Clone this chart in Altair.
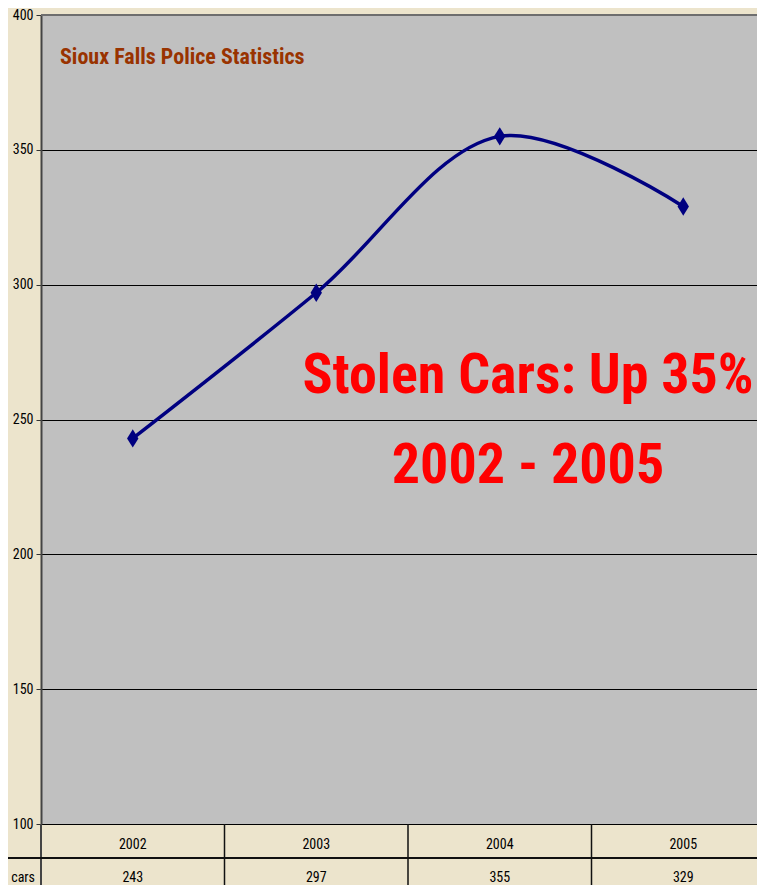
import altair as alt
import pandas as pd

# ---- data ----
years = ["2002", "2003", "2004", "2005"]
stolen_cars = [243, 297, 355, 329]
y_ticks = [100, 150, 200, 250, 300, 350, 400]
chart_title = ["Sioux Falls Police Statistics"]
headline_lines = ["Stolen Cars: Up 35%", "2002 - 2005"]
row_label = ["Stolen cars"]

df = pd.DataFrame({"year": years, "cars": stolen_cars})

FONT = "Roboto Condensed, Liberation Sans, Arial"
BG = "#ECE4CC"
NAVY = "#000080"

W, H = 716, 809

x_scale = alt.Scale(type="band", range=[0, 734], paddingInner=0, paddingOuter=0)
x_enc = alt.X("year:N", scale=x_scale, axis=None, sort=years)
y_enc = alt.Y(
    "cars:Q",
    scale=alt.Scale(domain=[100, 400], zero=False, nice=False),
    axis=alt.Axis(
        values=y_ticks, title=None, grid=True, gridColor="#000000", gridWidth=1,
        labelFont=FONT, labelFontSize=14, labelColor="#000000", labelPadding=3,
        tickColor="#333333", tickSize=5, tickWidth=1,
        domainColor="#444444", domainWidth=2,
    ),
)

base = alt.Chart(df)

top_line = base.mark_rule(color="#6E6E6E", strokeWidth=2).encode(
    x=alt.value(0), x2=alt.value(W + 20), y=alt.value(0)
)

line = base.mark_line(interpolate="catmull-rom", color=NAVY, strokeWidth=3.5).encode(x=x_enc, y=y_enc)

DIAMOND = "M0,-1L0.62,0L0,1L-0.62,0Z"
points = base.mark_point(shape=DIAMOND, filled=True, size=340, color=NAVY, opacity=1).encode(
    x=x_enc, y="cars:Q"
)

vlines = base.mark_rule(color="#111111", strokeWidth=1.5).encode(
    x=alt.X("year:N", scale=x_scale, axis=None, sort=years, bandPosition=0),
    y=alt.value(H), y2=alt.value(H + 80),
)
left_line = base.mark_rule(color="#444444", strokeWidth=2).encode(
    x=alt.value(0), y=alt.value(H), y2=alt.value(H + 80)
)
hline = base.mark_rule(color="#111111", strokeWidth=1.5).encode(
    x=alt.value(-40), x2=alt.value(W + 20), y=alt.value(H + 34)
)
year_text = base.mark_text(font=FONT, fontSize=14, color="#000000", baseline="alphabetic").encode(
    x=alt.X("year:N", scale=x_scale, axis=None, sort=years),
    y=alt.value(H + 25), text="year:N",
)
value_text = base.mark_text(font=FONT, fontSize=14, color="#000000", baseline="alphabetic").encode(
    x=alt.X("year:N", scale=x_scale, axis=None, sort=years),
    y=alt.value(H + 58), text="cars:Q",
)
row_text = alt.Chart(pd.DataFrame({"t": row_label})).mark_text(
    font=FONT, fontSize=14, color="#000000", align="right", baseline="alphabetic"
).encode(x=alt.value(-6), y=alt.value(H + 58), text="t:N")

title_mark = alt.Chart(pd.DataFrame({"t": chart_title})).mark_text(
    font=FONT, fontSize=22, fontWeight="bold", color="#993300", align="left", baseline="alphabetic"
).encode(x=alt.value(19), y=alt.value(49), text="t:N")

head1 = alt.Chart(pd.DataFrame({"t": headline_lines[:1]})).mark_text(
    font=FONT, fontSize=56, fontWeight="bold", color="#FF0000", align="center", baseline="alphabetic"
).encode(x=alt.value(487), y=alt.value(378), text="t:N")
head2 = alt.Chart(pd.DataFrame({"t": headline_lines[1:]})).mark_text(
    font=FONT, fontSize=56, fontWeight="bold", color="#FF0000", align="center", baseline="alphabetic"
).encode(x=alt.value(487), y=alt.value(468), text="t:N")

chart = alt.layer(
    top_line, vlines, left_line, hline, year_text, value_text, row_text,
    line, points, title_mark, head1, head2,
).properties(
    width=W, height=H,
    autosize=alt.AutoSizeParams(type="none"),
    padding={"left": 33, "top": 7, "right": 0, "bottom": 61},
    background=BG,
).configure_view(fill="#C0C0C0", stroke="transparent", strokeWidth=0)

chart.save("out.html", embed_options={"renderer": "svg", "actions": False})
